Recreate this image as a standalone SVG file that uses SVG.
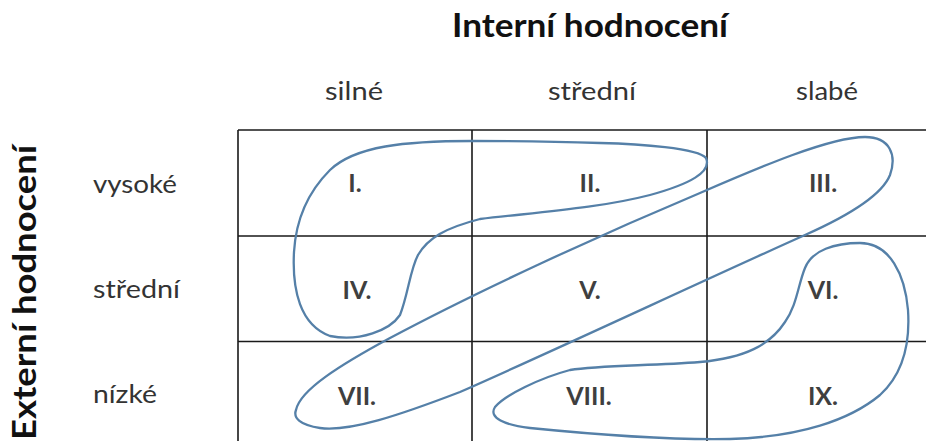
<svg xmlns="http://www.w3.org/2000/svg" width="926" height="441" viewBox="0 0 926 441">
  <style>
    .title { font-family: Lato, "Open Sans", "Liberation Sans", sans-serif; font-weight: bold; font-size: 33px; fill: #111; }
    .lbl { font-family: Lato, "Open Sans", "Liberation Sans", sans-serif; font-size: 25px; fill: #333; }
    .cell { font-family: Lato, "Open Sans", "Liberation Sans", sans-serif; font-weight: bold; font-size: 25px; fill: #3f3f3f; text-anchor: middle; }
    .grid { stroke: #1a1a1a; stroke-width: 1.6; fill: none; }
    .blob { stroke: #5580a8; stroke-width: 2.3; fill: none; }
  </style>
  <rect width="926" height="441" fill="#fff"/>
  <g id="title-internal"><text class="title" x="452" y="37" textLength="276" lengthAdjust="spacingAndGlyphs">Interní hodnocení</text></g>
  <g id="title-external"><text class="title" transform="translate(36,440) rotate(-90)" x="0" y="0" textLength="295" lengthAdjust="spacingAndGlyphs">Externí hodnocení</text></g>
  <g id="col-labels">
    <text class="lbl" x="325" y="100" textLength="58" lengthAdjust="spacingAndGlyphs">silné</text>
    <text class="lbl" x="548" y="100" textLength="88" lengthAdjust="spacingAndGlyphs">střední</text>
    <text class="lbl" x="796" y="100" textLength="62" lengthAdjust="spacingAndGlyphs">slabé</text>
  </g>
  <g id="row-labels">
    <text class="lbl" x="93" y="193" textLength="84" lengthAdjust="spacingAndGlyphs">vysoké</text>
    <text class="lbl" x="93" y="298" textLength="87" lengthAdjust="spacingAndGlyphs">střední</text>
    <text class="lbl" x="93" y="403" textLength="64" lengthAdjust="spacingAndGlyphs">nízké</text>
  </g>
  <g id="grid">
    <path class="grid" d="M238,130 H926 M238,236 H926 M238,341.5 H926 M238,130 V441 M472,130 V441 M707,130 V441"/>
  </g>
  <g id="cell-I"><text class="cell" x="355" y="192">I.</text></g>
  <g id="cell-II"><text class="cell" x="590" y="192">II.</text></g>
  <g id="cell-III"><text class="cell" x="823" y="192">III.</text></g>
  <g id="cell-IV"><text class="cell" x="357" y="299">IV.</text></g>
  <g id="cell-V"><text class="cell" x="590" y="299">V.</text></g>
  <g id="cell-VI"><text class="cell" x="823" y="299">VI.</text></g>
  <g id="cell-VII"><text class="cell" x="357" y="405">VII.</text></g>
  <g id="cell-VIII"><text class="cell" x="589" y="405">VIII.</text></g>
  <g id="cell-IX"><text class="cell" x="823" y="405">IX.</text></g>
  <g id="connectors">
    <path id="blob-A" class="blob" d="M472,141 C405,141 355,146 330,170 C308,192 296,218 294,252 C292,290 300,325 330,336 C360,342 390,330 400,315 C408,295 410,270 418,255 C428,238 445,228 480,219 C540,212 600,208 650,195 C690,184 712,172 706,158 C698,148 640,144 600,143 C540,141 500,141 472,141 Z"/>
    <path id="blob-B" class="blob" d="M296,410 C300,390 340,365 390,338 C480,290 600,235 700,193 C760,167 830,137 865,137 C890,137 897,155 890,175 C882,195 850,215 805,235 C700,282 560,348 460,392 C400,415 350,432 320,428 C300,425 293,418 296,410 Z"/>
    <path id="blob-C" class="blob" d="M860,243 C835,243 812,250 805,268 C798,285 797,305 785,322 C770,345 745,358 700,362 C650,366 600,365 570,370 C540,378 505,395 495,407 C488,418 505,425 530,428 C600,435 680,440 730,439 C800,437 850,420 880,395 C905,372 910,340 908,310 C905,275 890,243 860,243 Z"/>
  </g>
</svg>
